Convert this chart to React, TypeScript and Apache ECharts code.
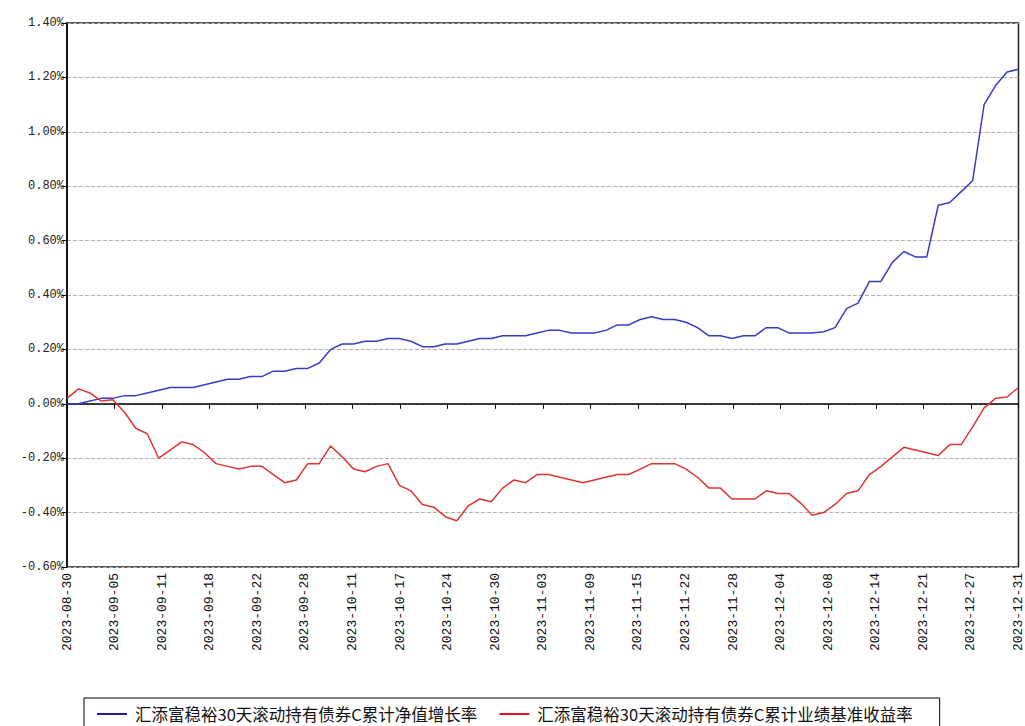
import { useEffect, useRef } from 'react';
import * as echarts from 'echarts';

// labels under the evenly spaced ticks of the x axis
const xTickLabels = [
  '2023-08-30', '2023-09-05', '2023-09-11', '2023-09-18', '2023-09-22',
  '2023-09-28', '2023-10-11', '2023-10-17', '2023-10-24', '2023-10-30',
  '2023-11-03', '2023-11-09', '2023-11-15', '2023-11-22', '2023-11-28',
  '2023-12-04', '2023-12-08', '2023-12-14', '2023-12-21', '2023-12-27',
  '2023-12-31'
];

const seriesNames = [
  '汇添富稳裕30天滚动持有债券C累计净值增长率',
  '汇添富稳裕30天滚动持有债券C累计业绩基准收益率'
];

// cumulative NAV growth (%), one value per trading day
const navGrowth = [
  0.00, 0.00, 0.01, 0.02, 0.02, 0.03, 0.03, 0.04, 0.05, 0.06,
  0.06, 0.06, 0.07, 0.08, 0.09, 0.09, 0.10, 0.10, 0.12, 0.12,
  0.13, 0.13, 0.15, 0.20, 0.22, 0.22, 0.23, 0.23, 0.24, 0.24,
  0.23, 0.21, 0.21, 0.22, 0.22, 0.23, 0.24, 0.24, 0.25, 0.25,
  0.25, 0.26, 0.27, 0.27, 0.26, 0.26, 0.26, 0.27, 0.29, 0.29,
  0.31, 0.32, 0.31, 0.31, 0.30, 0.28, 0.25, 0.25, 0.24, 0.25,
  0.25, 0.28, 0.28, 0.26, 0.26, 0.26, 0.265, 0.28, 0.35, 0.37,
  0.45, 0.45, 0.52, 0.56, 0.54, 0.54, 0.73, 0.74, 0.78, 0.82,
  1.10, 1.17, 1.22, 1.23
];

// cumulative benchmark return (%)
const benchmarkReturn = [
  0.02, 0.055, 0.04, 0.01, 0.015, -0.03, -0.09, -0.11, -0.20, -0.17,
  -0.14, -0.15, -0.18, -0.22, -0.23, -0.24, -0.23, -0.23, -0.26, -0.29,
  -0.28, -0.22, -0.22, -0.155, -0.195, -0.24, -0.25, -0.23, -0.22, -0.30,
  -0.32, -0.37, -0.38, -0.415, -0.43, -0.375, -0.35, -0.36, -0.31, -0.28,
  -0.29, -0.26, -0.26, -0.27, -0.28, -0.29, -0.28, -0.27, -0.26, -0.26,
  -0.24, -0.22, -0.22, -0.22, -0.24, -0.27, -0.31, -0.31, -0.35, -0.35,
  -0.35, -0.32, -0.33, -0.33, -0.365, -0.41, -0.40, -0.37, -0.33, -0.32,
  -0.26, -0.23, -0.195, -0.16, -0.17, -0.18, -0.19, -0.15, -0.15, -0.085,
  -0.015, 0.02, 0.025, 0.06
];

const lastIndex = navGrowth.length - 1;
const xStep = lastIndex / (xTickLabels.length - 1);

const monoFont = 'Liberation Mono';

const App = () => {
  const chartRef = useRef<HTMLDivElement>(null);

  useEffect(() => {
    if (!chartRef.current) return;

    const myChart = echarts.init(chartRef.current, null, { renderer: 'svg' });

    const option = {
      animation: false,
      backgroundColor: '#fff',
      grid: {
        left: 67,
        right: 6,
        top: 23,
        bottom: 159,
        show: true,
        borderColor: '#222',
        borderWidth: 1.5
      },
      legend: {
        left: 84,
        top: 698,
        orient: 'horizontal',
        icon: 'rect',
        itemWidth: 30,
        itemHeight: 2,
        itemGap: 22,
        padding: [7, 27, 14, 13],
        borderColor: '#000',
        borderWidth: 1,
        textStyle: {
          fontFamily: 'Noto Sans CJK SC',
          fontSize: 16.5,
          lineHeight: 18,
          padding: [0, 0, 0, 3],
          color: '#111'
        },
        data: seriesNames
      },
      xAxis: {
        type: 'value',
        min: 0,
        max: lastIndex,
        interval: xStep,
        axisLine: { lineStyle: { color: '#000', width: 1.5 } },
        axisTick: { show: true, length: 5, lineStyle: { color: '#000' } },
        splitLine: { show: false },
        axisLabel: {
          rotate: 90,
          margin: 6,
          fontFamily: monoFont,
          fontSize: 13,
          color: '#111',
          formatter: (v: number) => xTickLabels[Math.round(v / xStep)] ?? ''
        }
      },
      yAxis: {
        type: 'value',
        min: -0.6,
        max: 1.4,
        interval: 0.2,
        axisLine: { show: true, lineStyle: { color: '#000', width: 1.5 } },
        axisTick: { show: true, length: 5, lineStyle: { color: '#000' } },
        splitLine: {
          show: true,
          lineStyle: { color: '#b0b0b0', type: [4, 2], width: 1 }
        },
        axisLabel: {
          margin: 3,
          fontFamily: monoFont,
          fontSize: 12,
          color: '#222',
          formatter: (v: number) => v.toFixed(2) + '%'
        }
      },
      series: [
        {
          name: seriesNames[0],
          type: 'line',
          data: navGrowth.map((v, i) => [i, v]),
          showSymbol: false,
          lineStyle: { color: '#3a3ac4', width: 1.5 },
          itemStyle: { color: '#1c1ca8' }
        },
        {
          name: seriesNames[1],
          type: 'line',
          data: benchmarkReturn.map((v, i) => [i, v]),
          showSymbol: false,
          lineStyle: { color: '#e03434', width: 1.5 },
          itemStyle: { color: '#e01020' }
        }
      ]
    };

    myChart.setOption(option);

    return () => {
      myChart.dispose();
    };
  }, []);

  return (
    <div
      ref={chartRef}
      style={{ position: 'absolute', left: 0, top: 0, width: '1025px', height: '726px' }}
    />
  );
};

export default App;
